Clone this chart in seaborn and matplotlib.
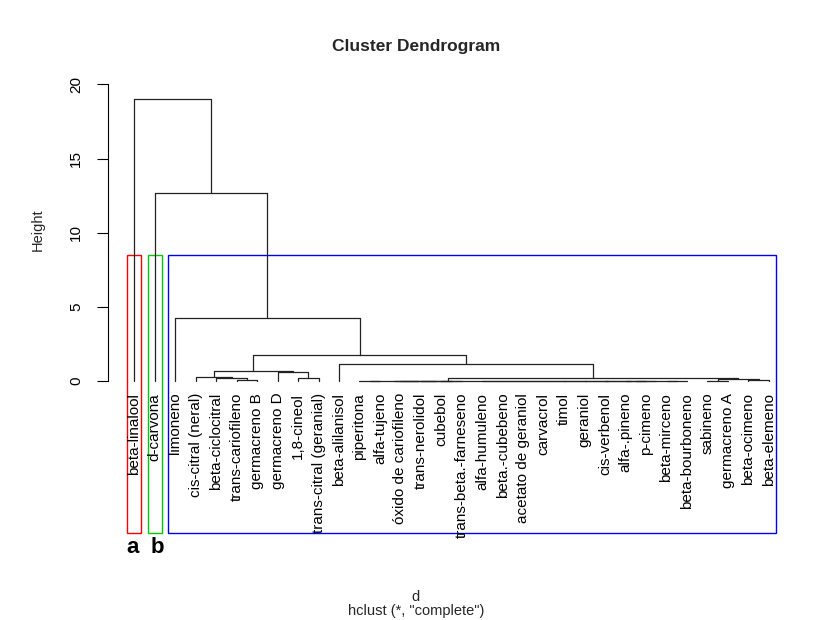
import matplotlib

matplotlib.use('Agg')
import matplotlib.pyplot as plt
import numpy as np
import pandas as pd
import seaborn as sns
from matplotlib.patches import Rectangle

# leaves in dendrogram order
labels = [
    'beta-linalool', 'd-carvona', 'limoneno', 'cis-citral (neral)',
    'beta-ciclocitral', 'trans-cariofileno', 'germacreno B', 'germacreno D',
    '1,8-cineol', 'trans-citral (geranial)', 'beta-alilanisol', 'piperitona',
    'alfa-tujeno', 'óxido de cariofileno', 'trans-nerolidol', 'cubebol',
    'trans-beta.-farneseno', 'alfa-humuleno', 'beta.-cubebeno',
    'acetato de geraniol', 'carvacrol', 'timol', 'geraniol', 'cis-verbenol',
    'alfa-.pineno', 'p-cimeno', 'beta-mirceno', 'beta-bourboneno', 'sabineno',
    'germacreno A', 'beta-ocimeno', 'beta-elemeno',
]

# hclust-style merge table: negative = leaf (1-based), positive = earlier merge
merge_left = [-16, -15, -14, -12, 4, -25, -27, 6, -24, -23, -22, -21, -20, -19, -18,
              5, -29, -31, 17, 16, -11, -6, -5, -4, -9, -8, 24, 27, -3, -2, -1]
merge_right = [-17, 1, 2, -13, 3, -26, -28, 7, 8, 9, 10, 11, 12, 13, 14,
               15, -30, -32, 18, 19, 20, -7, 22, 23, -10, 25, 26, 21, 28, 29, 30]
merge_height = [0.005, 0.01, 0.015, 0.008, 0.02, 0.004, 0.006, 0.009, 0.011, 0.013,
                0.015, 0.017, 0.019, 0.021, 0.023, 0.03, 0.03, 0.04, 0.12, 0.2,
                1.13, 0.06, 0.17, 0.29, 0.18, 0.62, 0.65, 1.77, 4.27, 12.68, 19.0]

# rect.hclust k = 3, cluster sizes in leaf order
cluster_sizes = [1, 1, 30]
cluster_colors = ['#ff0000', '#00cd00', '#0000ff']
cluster_tags = ['a', 'b']

sns.set_theme(style='white')
plt.rcParams['font.family'] = ['Liberation Sans', 'DejaVu Sans']

W, H = 835, 620
fig = plt.figure(figsize=(W / 100, H / 100), dpi=100)
ax = fig.add_axes([108 / W, 1 - 533 / H, (794 - 108) / W, (533 - 70) / H])

# node coordinates, then one bracket per merge
node_x, node_h = {}, {}
rows = []


def child(v):
    if v < 0:
        return -v - 1, 0.0
    return node_x[v], node_h[v]


for i, (l, r, h) in enumerate(zip(merge_left, merge_right, merge_height), start=1):
    xl, hl = child(l)
    xr, hr = child(r)
    node_x[i] = (xl + xr) / 2
    node_h[i] = h
    for j, (px, py) in enumerate([(xl, hl), (xl, h), (xr, h), (xr, hr)]):
        rows.append({'seg': i, 'order': j, 'x': px, 'y': py})

segs = pd.DataFrame(rows)
sns.lineplot(data=segs, x='x', y='y', units='seg', estimator=None, sort=False,
             color='#222222', linewidth=0.9, ax=ax, legend=False)

ax.set_xlim(-1.285, 32.228)
ax.set_ylim(-10.25, 20.971)

for i, lab in enumerate(labels):
    ax.text(i, -0.8, lab, rotation=90, ha='center', va='top', fontsize=11,
            color='black', clip_on=False)

# cluster rectangles (rect.hclust style)
top = np.mean(sorted(merge_height)[-3:-1])
start = 0
for size, col in zip(cluster_sizes, cluster_colors):
    x0 = start - 0.34
    x1 = start + size - 1 + 0.33
    ax.add_patch(Rectangle((x0, -10.25), x1 - x0, top + 10.25, fill=False,
                           edgecolor=col, linewidth=1.0, clip_on=False))
    start += size

for k, tag in enumerate(cluster_tags):
    ax.text(k + (0.12 if k else -0.1), -11.6, tag, ha='center', va='baseline',
            fontsize=16, fontweight='bold', color='black', clip_on=False)

ax.set_xticks([])
ax.set_yticks([0, 5, 10, 15, 20])
ax.set_yticklabels(['0', '5', '10', '15', '20'], rotation=90, va='center', fontsize=11)
ax.tick_params(axis='y', left=True, length=8, width=0.8, pad=10, colors='black')
sns.despine(ax=ax, top=True, right=True, bottom=True)
ax.spines['left'].set_bounds(0, 20)
ax.spines['left'].set_color('black')
ax.spines['left'].set_linewidth(0.8)
ax.set_xlabel('')
ax.set_ylabel('')

fig.text(38 / W, 1 - 230 / H, 'Height', rotation=90, ha='center', va='center', fontsize=10.5)
fig.text(416 / W, 1 - 47 / H, 'Cluster Dendrogram', ha='center', va='center',
         fontsize=12.5, fontweight='bold')
fig.text(416 / W, 1 - 597 / H, 'd', ha='center', va='center', fontsize=10.5)
fig.text(416 / W, 1 - 611 / H, 'hclust (*, "complete")', ha='center', va='center', fontsize=10.5)

fig.savefig('out.png', dpi=100)
